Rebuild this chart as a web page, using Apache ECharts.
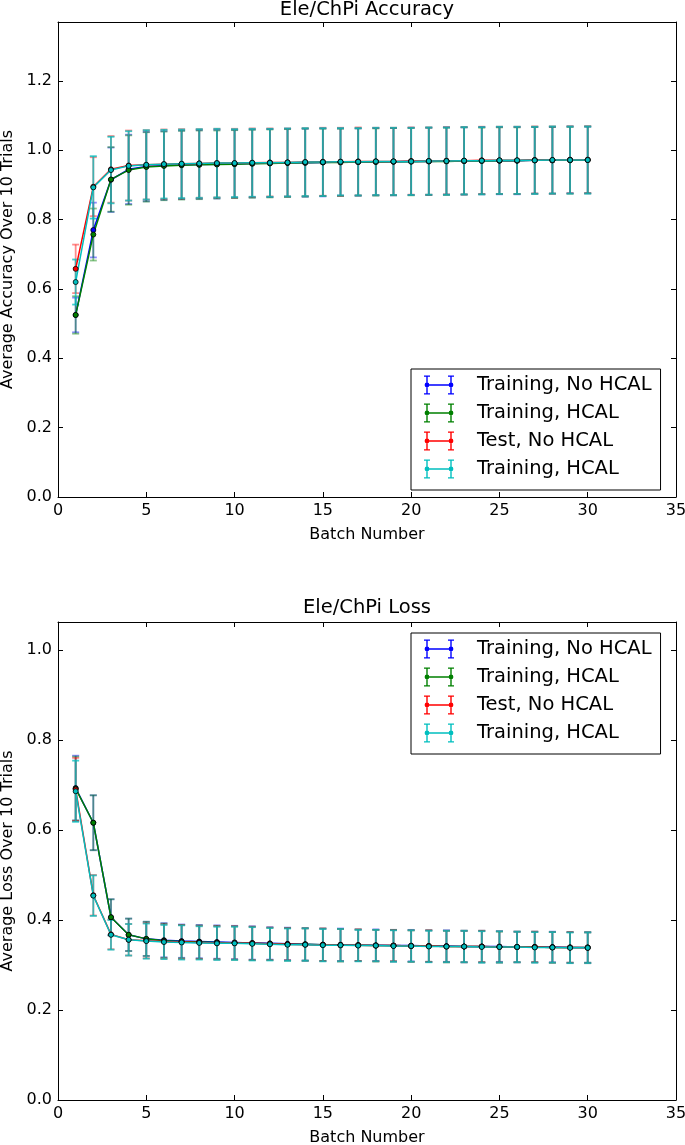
<!DOCTYPE html>
<html><head><meta charset="utf-8">
<script src="https://cdn.jsdelivr.net/npm/echarts/dist/echarts.min.js"></script>
<style>html,body{margin:0;padding:0;background:#fff}#c{width:685px;height:1145px}</style>
</head><body><div id="c"></div>
<script>
// ---------------- data ----------------
const batches = [1,2,3,4,5,6,7,8,9,10,11,12,13,14,15,16,17,18,19,20,21,22,23,24,25,26,27,28,29,30];
const seriesNames = ["Training, No HCAL", "Training, HCAL", "Test, No HCAL", "Training, HCAL "];
const seriesColors = ["#0000ff", "#008000", "#ff0000", "#00bfbf"];
const xTicks = [0, 5, 10, 15, 20, 25, 30, 35];

// Accuracy (top panel)
const accTrainNoHcal = [0.525,0.770,0.915,0.945,0.953,0.956,0.958,0.959,0.960,0.961,0.962,0.963,0.964,0.964,0.965,0.966,0.966,0.967,0.967,0.968,0.968,0.969,0.969,0.970,0.970,0.970,0.971,0.971,0.972,0.972];
const accTrainHcal   = [0.525,0.757,0.916,0.943,0.952,0.955,0.957,0.958,0.959,0.960,0.961,0.962,0.963,0.964,0.965,0.965,0.966,0.966,0.967,0.967,0.968,0.968,0.969,0.969,0.970,0.970,0.971,0.971,0.971,0.972];
const accTestNoHcal  = [0.658,0.895,0.945,0.956,0.958,0.960,0.961,0.962,0.963,0.963,0.964,0.965,0.965,0.966,0.967,0.967,0.968,0.968,0.968,0.969,0.969,0.970,0.970,0.971,0.971,0.971,0.972,0.972,0.973,0.973];
const accTestHcal    = [0.620,0.893,0.943,0.955,0.958,0.960,0.961,0.962,0.963,0.963,0.964,0.964,0.965,0.966,0.966,0.967,0.967,0.968,0.968,0.968,0.969,0.969,0.970,0.970,0.971,0.971,0.971,0.972,0.972,0.972];
const accErrTrainNoHcal = [0.050,0.079,0.093,0.100,0.100,0.099,0.099,0.099,0.099,0.098,0.098,0.098,0.098,0.098,0.098,0.097,0.097,0.097,0.097,0.097,0.097,0.097,0.097,0.097,0.097,0.097,0.096,0.096,0.096,0.096];
const accErrTrainHcal   = [0.054,0.075,0.093,0.100,0.100,0.099,0.099,0.099,0.098,0.098,0.098,0.098,0.098,0.098,0.097,0.097,0.097,0.097,0.097,0.097,0.097,0.097,0.097,0.096,0.096,0.096,0.096,0.096,0.096,0.096];
const accErrTestNoHcal  = [0.070,0.085,0.096,0.101,0.100,0.100,0.100,0.099,0.099,0.099,0.099,0.098,0.098,0.098,0.098,0.098,0.098,0.097,0.097,0.097,0.097,0.097,0.097,0.097,0.097,0.097,0.097,0.097,0.097,0.097];
const accErrTestHcal    = [0.065,0.090,0.096,0.100,0.100,0.099,0.099,0.099,0.099,0.098,0.098,0.098,0.098,0.098,0.098,0.097,0.097,0.097,0.097,0.097,0.097,0.097,0.097,0.097,0.097,0.097,0.097,0.097,0.097,0.097];

// Loss (bottom panel)
const lossTrainNoHcal = [0.693,0.616,0.406,0.367,0.358,0.355,0.353,0.352,0.351,0.350,0.349,0.348,0.347,0.346,0.345,0.345,0.344,0.344,0.343,0.343,0.342,0.342,0.341,0.341,0.341,0.340,0.340,0.340,0.339,0.339];
const lossTrainHcal   = [0.692,0.616,0.406,0.367,0.358,0.354,0.352,0.351,0.350,0.349,0.348,0.347,0.346,0.346,0.345,0.344,0.344,0.343,0.343,0.342,0.342,0.341,0.341,0.341,0.340,0.340,0.340,0.339,0.339,0.339];
const lossTestNoHcal  = [0.690,0.455,0.368,0.356,0.354,0.352,0.351,0.350,0.349,0.349,0.348,0.347,0.346,0.345,0.345,0.344,0.344,0.343,0.343,0.342,0.342,0.341,0.341,0.341,0.340,0.340,0.340,0.339,0.339,0.338];
const lossTestHcal    = [0.686,0.454,0.367,0.356,0.353,0.351,0.350,0.349,0.348,0.348,0.347,0.346,0.345,0.345,0.344,0.344,0.343,0.343,0.342,0.342,0.341,0.341,0.341,0.340,0.340,0.340,0.339,0.339,0.338,0.338];
const lossErrTrainNoHcal = [0.072,0.061,0.040,0.036,0.038,0.038,0.037,0.037,0.037,0.037,0.037,0.036,0.036,0.036,0.036,0.036,0.035,0.035,0.035,0.035,0.035,0.035,0.035,0.035,0.034,0.034,0.034,0.034,0.034,0.034];
const lossErrTrainHcal   = [0.071,0.061,0.040,0.036,0.038,0.038,0.037,0.037,0.037,0.037,0.037,0.036,0.036,0.036,0.036,0.036,0.035,0.035,0.035,0.035,0.035,0.035,0.035,0.035,0.034,0.034,0.034,0.034,0.034,0.034];
const lossErrTestNoHcal  = [0.070,0.045,0.033,0.035,0.039,0.038,0.038,0.037,0.037,0.037,0.037,0.036,0.036,0.036,0.036,0.036,0.035,0.035,0.035,0.035,0.035,0.035,0.035,0.035,0.035,0.034,0.034,0.034,0.034,0.034];
const lossErrTestHcal    = [0.068,0.045,0.033,0.035,0.039,0.038,0.038,0.037,0.037,0.037,0.037,0.036,0.036,0.036,0.036,0.036,0.035,0.035,0.035,0.035,0.035,0.035,0.035,0.035,0.035,0.034,0.034,0.034,0.034,0.034];

const accMeans = [accTrainNoHcal, accTrainHcal, accTestNoHcal, accTestHcal];
const accErrs  = [accErrTrainNoHcal, accErrTrainHcal, accErrTestNoHcal, accErrTestHcal];
const lossMeans = [lossTrainNoHcal, lossTrainHcal, lossTestNoHcal, lossTestHcal];
const lossErrs  = [lossErrTrainNoHcal, lossErrTrainHcal, lossErrTestNoHcal, lossErrTestHcal];

// ---------------- chart ----------------
const FONT = 'DejaVu Sans';
const errOpacity = [0.45, 0.45, 0.45, 0.75];
const chart = echarts.init(document.getElementById('c'), null, {renderer: 'canvas'});

const ICON = 'path://' +
  'M2.3 0L3.7 0L3.7 19L2.3 19Z' +
  'M0 0L6 0L6 1.3L0 1.3Z' +
  'M0 17.7L6 17.7L6 19L0 19Z' +
  'M26.3 0L27.7 0L27.7 19L26.3 19Z' +
  'M24 0L30 0L30 1.3L24 1.3Z' +
  'M24 17.7L30 17.7L30 19L24 19Z' +
  'M3 8.8L27 8.8L27 10.2L3 10.2Z' +
  'M0.6 9.5a2.4 2.4 0 1 1 4.8 0a2.4 2.4 0 1 1 -4.8 0Z' +
  'M24.6 9.5a2.4 2.4 0 1 1 4.8 0a2.4 2.4 0 1 1 -4.8 0Z';

function errRender(color, op) {
  return function (params, api) {
    const x = api.value(0), lo = api.value(1), hi = api.value(2);
    const a = api.coord([x, hi]), b = api.coord([x, lo]);
    const w = 3.5;
    const st = {stroke: color, lineWidth: 1.8, opacity: op};
    return {type: 'group', children: [
      {type: 'line', shape: {x1: a[0], y1: a[1], x2: b[0], y2: b[1]}, style: st},
      {type: 'line', shape: {x1: a[0] - w, y1: a[1], x2: a[0] + w, y2: a[1]}, style: st},
      {type: 'line', shape: {x1: b[0] - w, y1: b[1], x2: b[0] + w, y2: b[1]}, style: st}
    ]};
  };
}

function makeAxesX(gi) {
  const base = {
    type: 'value', gridIndex: gi, min: xTicks[0], max: xTicks[xTicks.length - 1], interval: 5,
    axisLine: {show: true, onZero: false, lineStyle: {color: '#000', width: 1}},
    axisTick: {show: true, inside: true, length: 5, lineStyle: {color: '#000', width: 1}},
    splitLine: {show: false}
  };
  return [
    Object.assign({}, base, {
      position: 'bottom', name: 'Batch Number', nameLocation: 'middle', nameGap: 30,
      nameTextStyle: {fontSize: 16, color: '#000', fontFamily: FONT},
      axisLabel: {color: '#000', fontSize: 16, fontFamily: FONT, margin: 6}
    }),
    Object.assign({}, base, {position: 'top', axisLabel: {show: false}})
  ];
}
function makeAxesY(gi, max, name) {
  const base = {
    type: 'value', gridIndex: gi, min: 0, max: max, interval: 0.2,
    axisLine: {show: true, onZero: false, lineStyle: {color: '#000', width: 1}},
    axisTick: {show: true, inside: true, length: 5, lineStyle: {color: '#000', width: 1}},
    splitLine: {show: false}
  };
  return [
    Object.assign({}, base, {
      position: 'left', name: name, nameLocation: 'middle', nameGap: 38, nameRotate: 90,
      nameTextStyle: {fontSize: 16, color: '#000', fontFamily: FONT},
      axisLabel: {color: '#000', fontSize: 16, fontFamily: FONT, margin: 6,
        formatter: v => (Math.abs(v / 0.2 - Math.round(v / 0.2)) < 1e-6 ? v.toFixed(1) : '')}
    }),
    Object.assign({}, base, {position: 'right', axisLabel: {show: false}})
  ];
}

const series = [];
function addPanel(means, errs, gi) {
  means.forEach((m, k) => {
    series.push({
      type: 'custom', name: 'err' + gi + '_' + k, xAxisIndex: gi * 2, yAxisIndex: gi * 2,
      renderItem: errRender(seriesColors[k], errOpacity[k]), z: 2, silent: true,
      encode: {x: 0, y: [1, 2]},
      data: batches.map((b, i) => [b, m[i] - errs[k][i], m[i] + errs[k][i]])
    });
    series.push({
      type: 'line', name: seriesNames[k], xAxisIndex: gi * 2, yAxisIndex: gi * 2,
      data: batches.map((b, i) => [b, m[i]]),
      symbol: 'circle', symbolSize: 5, showSymbol: true, z: 3,
      itemStyle: {color: seriesColors[k], borderColor: '#000', borderWidth: 0.8},
      lineStyle: {color: seriesColors[k], width: 1.5},
      emphasis: {disabled: true}
    });
  });
}
addPanel(accMeans, accErrs, 0);
addPanel(lossMeans, lossErrs, 1);

function makeLegend(top) {
  return {
    left: 411, top: top, orient: 'vertical', selectedMode: false,
    data: seriesNames.map(n => ({name: n, icon: ICON})),
    itemWidth: 30, itemHeight: 19, itemGap: 8,
    padding: [6, 9, 11, 13],
    borderColor: '#000', borderWidth: 1, backgroundColor: '#fff',
    itemStyle: {borderWidth: 0},
    textStyle: {fontSize: 19.5, color: '#000', fontFamily: FONT, padding: [0, 0, 0, 18]},
    formatter: n => n.trim()
  };
}

chart.setOption({
  animation: false,
  backgroundColor: '#fff',
  textStyle: {fontFamily: FONT},
  grid: [
    {left: 58, right: 9, top: 22, height: 475, containLabel: false, outerBoundsMode: 'none'},
    {left: 58, right: 9, top: 622, height: 478, containLabel: false, outerBoundsMode: 'none'}
  ],
  xAxis: makeAxesX(0).concat(makeAxesX(1)),
  yAxis: makeAxesY(0, 1.37, 'Average Accuracy Over 10 Trials').concat(makeAxesY(1, 1.062, 'Average Loss Over 10 Trials')),
  legend: [makeLegend(369), makeLegend(633)],
  graphic: [
    {type: 'text', x: 367, y: 0, style: {text: 'Ele/ChPi Accuracy', fontSize: 19.5, fontFamily: FONT, fill: '#000', textAlign: 'center', textVerticalAlign: 'top'}},
    {type: 'text', x: 367, y: 598, style: {text: 'Ele/ChPi Loss', fontSize: 19.5, fontFamily: FONT, fill: '#000', textAlign: 'center', textVerticalAlign: 'top'}}
  ],
  series: series
});
</script>
</body></html>
